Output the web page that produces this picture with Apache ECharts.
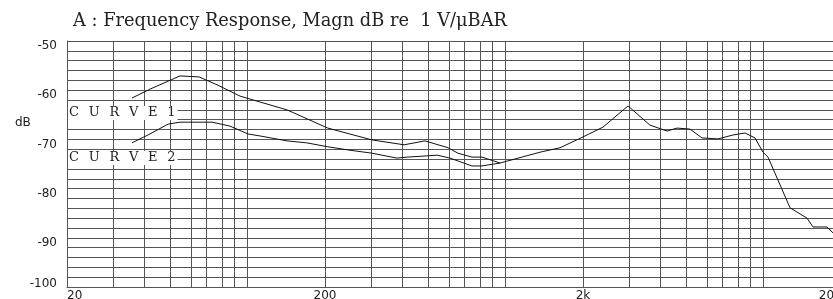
<!DOCTYPE html>
<html>
<head>
<meta charset="utf-8">
<script src="https://cdn.jsdelivr.net/npm/echarts@6/dist/echarts.min.js"></script>
<style>
  html, body { margin: 0; padding: 0; background: #fff; }
  #chart { width: 833px; height: 299px; }
</style>
</head>
<body>
<div id="chart"></div>
<script>
// frequency response, two curves, log frequency axis 20 Hz .. 20 kHz

const gridFreqs = [30, 40, 50, 60, 70, 80, 90, 100, 200, 300, 400, 500, 600, 700, 800, 900,
  1000, 2000, 3000, 4000, 5000, 6000, 7000, 8000, 9000, 10000, 20000];

const curve1Freq = [35.7, 41.9, 54.8, 65, 76.3, 93.7, 112, 142.5, 205, 304, 405, 488, 600, 655,
  743, 812, 954, 1363, 1629, 2000, 2391, 2989, 3636, 4234, 4628, 5196, 5784, 6674, 7628, 8492,
  9284, 9968, 10426, 12688, 14766, 15578, 17648, 18622, 20000];
const curve1Db = [-61.6, -59.8, -57.1, -57.3, -58.9, -61.2, -62.4, -64.0, -67.7, -70.1, -71.1, -70.3, -71.7, -72.8,
  -73.6, -73.6, -74.8, -72.6, -71.7, -69.5, -67.5, -63.2, -67.1, -68.3, -67.7, -67.9, -69.7, -69.9, -69.1, -68.7,
  -69.7, -72.6, -73.6, -83.9, -86.0, -87.8, -87.8, -89.0, -90.2];

const curve2Freq = [35.7, 41.2, 49.3, 54.8, 68.5, 73, 85.7, 100.6, 112, 142.5, 170, 205, 250, 304,
  380, 416, 480, 544, 610, 743, 812, 954];
const curve2Db = [-70.7, -69.1, -66.9, -66.5, -66.5, -66.5, -67.3, -68.9, -69.3, -70.3, -70.7, -71.5, -72.2, -72.8,
  -73.8, -73.6, -73.4, -73.2, -73.8, -75.4, -75.4, -74.8];

const curveNames = ['CURVE1', 'CURVE2'];

// x is decades above 20 Hz
const F0 = 20;
const toX = f => Math.log10(f / F0);
const pairs = (fs, ds) => fs.map((f, i) => [toX(f), ds[i]]);

const gridColor = '#555';
const lineColor = '#111';
const axisFont = 'DejaVu Sans';

const spaced = s => s.split('').join('\u2002\u2005');

let chart = echarts.init(document.getElementById('chart'), null, { renderer: 'canvas' });

let option = {
  animation: false,
  title: {
    text: 'A : Frequency Response, Magn dB re  1 V/\u03bcBAR',
    left: 73,
    top: 12,
    padding: 0,
    textStyle: {
      fontFamily: 'DejaVu Serif',
      fontSize: 17.8,
      fontWeight: 'normal',
      color: '#222'
    }
  },
  grid: {
    left: 67,
    top: 41,
    width: 774,
    height: 246,
    outerBoundsMode: 'none'
  },
  xAxis: {
    type: 'value',
    min: 0,
    max: 3,
    interval: 1,
    name: 'Hz',
    nameLocation: 'middle',
    nameGap: 3,
    nameTextStyle: { fontFamily: axisFont, fontSize: 12, color: '#222', verticalAlign: 'top' },
    axisLine: { show: true, lineStyle: { color: gridColor, width: 1 } },
    axisTick: { show: false },
    axisLabel: {
      margin: 3,
      fontFamily: axisFont,
      fontSize: 12,
      color: '#222',
      showMinLabel: true,
      showMaxLabel: true,
      alignMinLabel: 'left',
      alignMaxLabel: 'right',
      formatter: v => {
        let f = Math.round(F0 * Math.pow(10, v));
        return f >= 1000 ? (f / 1000) + 'k' : String(f);
      }
    },
    splitLine: { show: false }
  },
  yAxis: {
    type: 'value',
    min: -100,
    max: -50,
    interval: 10,
    axisLine: { show: true, lineStyle: { color: gridColor, width: 1 } },
    axisTick: { show: false },
    axisLabel: {
      margin: 10,
      fontFamily: axisFont,
      fontSize: 12,
      color: '#222',
      // labels sit a little below their lines, except the bottom one
      formatter: v => (v === -100 ? '{lo|' + v + '}' : '{n|' + v + '}'),
      rich: {
        n: { fontFamily: axisFont, fontSize: 12, color: '#222', padding: [10, 0, 0, 0] },
        lo: { fontFamily: axisFont, fontSize: 12, color: '#222', padding: [0, 0, 6, 0] }
      }
    },
    splitLine: { show: true, lineStyle: { color: gridColor, width: 1 } },
    minorTick: { show: false, splitNumber: 5 },
    minorSplitLine: { show: true, lineStyle: { color: gridColor, width: 1 } }
  },
  graphic: [
    {
      type: 'text',
      left: 15,
      top: 117,
      style: { text: 'dB', fontFamily: axisFont, fontSize: 12, fill: '#222' }
    },
    {
      type: 'text',
      x: 68,
      y: 113,
      z: 50,
      style: {
        text: spaced(curveNames[0]),
        fontFamily: 'DejaVu Serif',
        fontSize: 13,
        fill: '#222',
        verticalAlign: 'middle',
        backgroundColor: '#fff',
        padding: [1, 2, 0, 1]
      }
    },
    {
      type: 'text',
      x: 68,
      y: 158,
      z: 50,
      style: {
        text: spaced(curveNames[1]),
        fontFamily: 'DejaVu Serif',
        fontSize: 13,
        fill: '#222',
        verticalAlign: 'middle',
        backgroundColor: '#fff',
        padding: [1, 2, 0, 1]
      }
    }
  ],
  series: [
    {
      name: curveNames[0],
      type: 'line',
      data: pairs(curve1Freq, curve1Db),
      showSymbol: false,
      symbol: 'none',
      lineStyle: { color: lineColor, width: 1 },
      z: 5,
      markLine: {
        silent: true,
        symbol: 'none',
        label: { show: false },
        lineStyle: { color: gridColor, width: 1, type: 'solid' },
        data: gridFreqs.map(f => ({ xAxis: toX(f) }))
      }
    },
    {
      name: curveNames[1],
      type: 'line',
      data: pairs(curve2Freq, curve2Db),
      showSymbol: false,
      symbol: 'none',
      lineStyle: { color: lineColor, width: 1 },
      z: 5
    }
  ]
};

chart.setOption(option);
</script>
</body>
</html>
